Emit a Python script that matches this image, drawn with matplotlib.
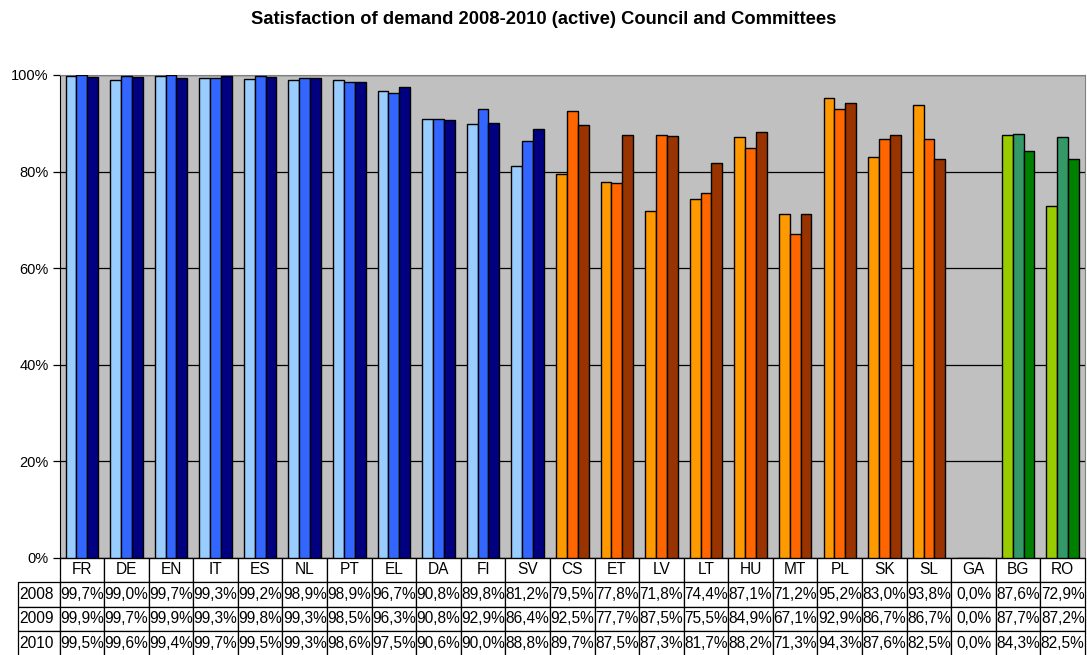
import matplotlib
matplotlib.use("Agg")
import matplotlib.pyplot as plt
import numpy as np

plt.rcParams['font.family'] = ['Liberation Sans', 'DejaVu Sans']

categories = ["FR", "DE", "EN", "IT", "ES", "NL", "PT", "EL", "DA", "FI", "SV",
              "CS", "ET", "LV", "LT", "HU", "MT", "PL", "SK", "SL", "GA", "BG", "RO"]
years = ["2008", "2009", "2010"]
v2008 = [99.7, 99.0, 99.7, 99.3, 99.2, 98.9, 98.9, 96.7, 90.8, 89.8, 81.2,
         79.5, 77.8, 71.8, 74.4, 87.1, 71.2, 95.2, 83.0, 93.8, 0.0, 87.6, 72.9]
v2009 = [99.9, 99.7, 99.9, 99.3, 99.8, 99.3, 98.5, 96.3, 90.8, 92.9, 86.4,
         92.5, 77.7, 87.5, 75.5, 84.9, 67.1, 92.9, 86.7, 86.7, 0.0, 87.7, 87.2]
v2010 = [99.5, 99.6, 99.4, 99.7, 99.5, 99.3, 98.6, 97.5, 90.6, 90.0, 88.8,
         89.7, 87.5, 87.3, 81.7, 88.2, 71.3, 94.3, 87.6, 82.5, 0.0, 84.3, 82.5]
groups = ["blue"] * 11 + ["orange"] * 9 + ["none"] + ["green"] * 2

palette = {
    "blue": ["#99CCFF", "#3366FF", "#000080"],
    "orange": ["#FF9900", "#FF6600", "#993300"],
    "green": ["#99CC00", "#339966", "#008000"],
    "none": ["#C0C0C0", "#C0C0C0", "#C0C0C0"],
}

W, H = 1087, 655
fig = plt.figure(figsize=(W / 100, H / 100), dpi=100)
left_px, right_px, top_px, bottom_px = 59.5, 1085, 75, 557.7
ax = fig.add_axes([left_px / W, 1 - bottom_px / H, (right_px - left_px) / W, (bottom_px - top_px) / H])
ax.set_facecolor("#C0C0C0")

x = np.arange(len(categories))
bw = 0.243
series = [v2008, v2009, v2010]
for k, vals in enumerate(series):
    cols = [palette[g][k] for g in groups]
    heights = [v / 100 for v in vals]
    ax.bar(x + (k - 1) * bw, heights, width=bw, color=cols, edgecolor="black",
           linewidth=1.0, zorder=3)

ax.set_xlim(-0.5, len(categories) - 0.5)
ax.set_ylim(0, 1)
ax.set_yticks([0, 0.2, 0.4, 0.6, 0.8, 1.0])
ax.set_yticklabels(["0%", "20%", "40%", "60%", "80%", "100%"], fontsize=10.5)
ax.yaxis.grid(True, color="black", linewidth=0.9, zorder=1)
ax.set_axisbelow(True)
ax.set_xticks([])
ax.tick_params(axis="y", length=5, width=0.9, color="black", pad=3)
for s in ["top", "right"]:
    ax.spines[s].set_color("#808080")
    ax.spines[s].set_linewidth(0.8)
ax.spines["left"].set_color("black")
ax.spines["bottom"].set_color("black")

# Data table
axw = right_px - left_px
axh = bottom_px - top_px
lab_w = (left_px - 18) / axw
col_w = 1.0 / len(categories)
cell_text = []
for y, vals in zip(years, series):
    cell_text.append([y] + [("%.1f%%" % v).replace(".", ",") for v in vals])
table = ax.table(cellText=cell_text, colLabels=[""] + categories,
                 colWidths=[lab_w] + [col_w] * len(categories),
                 cellLoc="center",
                 bbox=[-lab_w, -(655.5 - bottom_px) / axh, 1 + lab_w, (655.5 - bottom_px) / axh])
table.auto_set_font_size(False)
for (r, c), cell in table.get_celld().items():
    cell.set_fontsize(11.2)
    cell.set_linewidth(0.9)
    cell.set_edgecolor("black")
    cell.PAD = 0.02
    if c == 0:
        cell.get_text().set_ha("left")
        cell._loc = "left"
    if r == 0 and c == 0:
        cell.visible_edges = ""
        cell.set_facecolor("none")

fig.text(0.5, 1 - 19 / H, "Satisfaction of demand 2008-2010 (active) Council and Committees",
         ha="center", va="center", fontsize=13.2, fontweight="bold")

fig.savefig("out.png", dpi=100)
